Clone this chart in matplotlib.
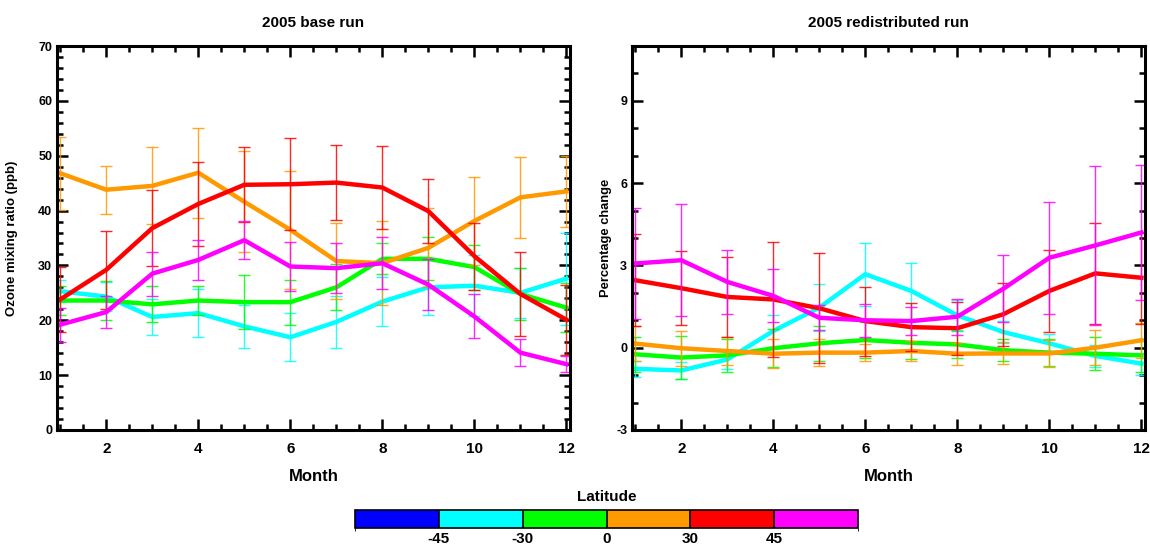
import numpy as np
import matplotlib
matplotlib.use("Agg")
import matplotlib.pyplot as plt
from matplotlib.colors import ListedColormap, BoundaryNorm
from matplotlib.ticker import MultipleLocator
import matplotlib as mpl

plt.rcParams['font.family'] = ['Liberation Sans', 'DejaVu Sans']
plt.rcParams['font.weight'] = 'bold'
plt.rcParams['axes.unicode_minus'] = False

months = np.arange(1, 13)

# latitude bands shown in each panel (the southernmost band has no data)
band_names = ["-45/-30", "-30/0", "0/30", "30/45", "45+"]
band_colors = ["#00ffff", "#00ff00", "#ff9900", "#ff0000", "#ff00ff"]

# 2005 base run, ozone mixing ratio (ppb)
base_cyan = [25.3, 24.3, 20.6, 21.3, 18.9, 16.9, 19.7, 23.4, 26.0, 26.3, 25.0, 27.6]
base_green = [23.6, 23.6, 22.9, 23.6, 23.3, 23.3, 26.0, 31.2, 31.2, 29.7, 24.8, 22.3]
base_orange = [46.8, 43.8, 44.5, 46.9, 41.6, 36.5, 30.8, 30.4, 33.2, 38.1, 42.4, 43.5]
base_red = [23.8, 29.2, 36.8, 41.2, 44.7, 44.8, 45.1, 44.2, 39.9, 31.7, 24.8, 20.1]
base_magenta = [19.2, 21.5, 28.5, 31.0, 34.6, 29.8, 29.5, 30.4, 26.5, 20.7, 14.1, 12.0]

base_cyan_err = [2.0, 2.7, 3.2, 4.4, 3.9, 4.4, 4.7, 4.5, 5.0, 5.6, 4.5, 8.4]
base_green_err = [2.6, 3.5, 3.3, 2.6, 4.9, 4.1, 4.2, 2.8, 3.9, 4.1, 4.7, 4.5]
base_orange_err = [6.7, 4.4, 7.0, 8.2, 9.2, 10.8, 7.0, 7.7, 7.2, 8.1, 7.4, 6.5]
base_red_err = [6.0, 7.1, 6.9, 7.6, 6.8, 8.4, 6.9, 7.6, 5.8, 6.1, 7.7, 6.4]
base_magenta_err = [3.1, 2.9, 4.0, 3.6, 3.5, 4.5, 4.5, 4.7, 4.6, 4.0, 2.4, 1.4]

# 2005 redistributed run, percentage change
redis_cyan = [-0.77, -0.83, -0.43, 0.61, 1.46, 2.68, 2.07, 1.18, 0.57, 0.16, -0.30, -0.58]
redis_green = [-0.24, -0.36, -0.28, -0.02, 0.16, 0.28, 0.18, 0.12, -0.09, -0.18, -0.22, -0.28]
redis_orange = [0.15, -0.02, -0.12, -0.22, -0.18, -0.18, -0.12, -0.22, -0.21, -0.21, 0.0, 0.27]
redis_red = [2.46, 2.17, 1.85, 1.76, 1.44, 0.97, 0.75, 0.71, 1.22, 2.07, 2.71, 2.55]
redis_magenta = [3.07, 3.19, 2.40, 1.89, 1.09, 1.00, 0.97, 1.13, 2.15, 3.28, 3.73, 4.20]

redis_cyan_err = [0.3, 0.3, 0.35, 0.6, 0.85, 1.15, 1.03, 0.55, 0.4, 0.33, 0.4, 0.4]
redis_green_err = [0.63, 0.79, 0.6, 0.69, 0.63, 0.65, 0.6, 0.5, 0.4, 0.5, 0.6, 0.6]
redis_orange_err = [0.65, 0.63, 0.5, 0.52, 0.5, 0.3, 0.35, 0.4, 0.4, 0.5, 0.63, 0.64]
redis_red_err = [1.68, 1.36, 1.46, 2.11, 2.0, 1.26, 0.87, 0.97, 1.15, 1.48, 1.83, 1.68]
redis_magenta_err = [2.04, 2.04, 1.16, 0.97, 0.45, 0.6, 0.5, 0.66, 1.22, 2.04, 2.9, 2.45]

# colour bar
lat_bounds = [-90, -45, -30, 0, 30, 45, 90]
lat_ticks = [-45, -30, 0, 30, 45]
lat_colors = ["#0000ff", "#00ffff", "#00ff00", "#ff9900", "#ff0000", "#ff00ff"]

base_series = [(base_cyan, base_cyan_err), (base_green, base_green_err),
               (base_orange, base_orange_err), (base_red, base_red_err),
               (base_magenta, base_magenta_err)]
redis_series = [(redis_cyan, redis_cyan_err), (redis_green, redis_green_err),
                (redis_orange, redis_orange_err), (redis_red, redis_red_err),
                (redis_magenta, redis_magenta_err)]

fig = plt.figure(figsize=(11.5, 5.49), dpi=100)
ax1 = fig.add_axes([0.0496, 0.2168, 0.4461, 0.6994])
ax2 = fig.add_axes([0.5496, 0.2168, 0.4461, 0.6994])


def draw_panel(ax, series):
    for (vals, errs), col in zip(series, band_colors):
        ax.errorbar(months, vals, yerr=errs, color=col, ecolor=col, elinewidth=1,
                    capsize=4, capthick=1, alpha=0.85, fmt="none")
        ax.plot(months, vals, color=col, lw=3.2)
    ax.set_xlim(0.93, 12.08)
    ax.xaxis.set_major_locator(MultipleLocator(2))
    ax.xaxis.set_minor_locator(MultipleLocator(0.5))
    ax.tick_params(which="both", direction="in", top=True, right=True,
                   labelsize=9, width=1.8)
    ax.tick_params(which="major", length=8)
    ax.tick_params(which="minor", length=4)
    ax.tick_params(axis="x", labelsize=11, pad=9)
    for sp in ax.spines.values():
        sp.set_linewidth(2.2)
    ax.set_xlabel("Month", fontsize=12, fontweight="bold", labelpad=9)


draw_panel(ax1, base_series)
ax1.set_ylim(0, 70)
ax1.yaxis.set_major_locator(MultipleLocator(10))
ax1.yaxis.set_minor_locator(MultipleLocator(2))
ax1.set_title("2005 base run", fontsize=11, fontweight="bold", pad=14)
ax1.set_ylabel("Ozone mixing ratio (ppb)", fontsize=9.5, fontweight="bold")
ax1.yaxis.set_label_coords(-0.076, 0.5)

draw_panel(ax2, redis_series)
ax2.set_ylim(-3, 11)
ax2.yaxis.set_major_locator(MultipleLocator(3))
ax2.yaxis.set_minor_locator(MultipleLocator(1))
ax2.set_title("2005 redistributed run", fontsize=11, fontweight="bold", pad=14)
ax2.set_ylabel("Percentage change", fontsize=9.3, fontweight="bold")
ax2.yaxis.set_label_coords(-0.039, 0.5)

cax = fig.add_axes([0.3087, 0.0390, 0.4374, 0.0328])
cmap = ListedColormap(lat_colors)
norm = BoundaryNorm(lat_bounds, cmap.N)
cb = mpl.colorbar.ColorbarBase(cax, cmap=cmap, norm=norm, boundaries=lat_bounds,
                               spacing="uniform", orientation="horizontal",
                               drawedges=True, ticks=lat_ticks)
cb.outline.set_linewidth(1.2)
cb.dividers.set_linewidth(1.2)
cax.tick_params(length=0, labelsize=11, pad=3)
cax.set_title("Latitude", fontsize=11, fontweight="bold", pad=6)

fig.savefig("out.png", dpi=100)
